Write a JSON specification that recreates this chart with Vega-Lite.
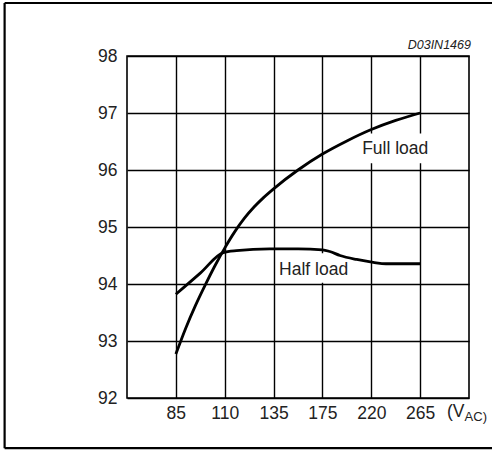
{
  "$schema": "https://vega.github.io/schema/vega-lite/v6.json",
  "width": 342,
  "height": 342,
  "autosize": {"type": "none"},
  "padding": {"left": 127, "top": 56, "right": 23, "bottom": 52},
  "background": "white",
  "config": {
    "view": {"stroke": "black", "strokeWidth": 1.6},
    "font": "Liberation Sans",
    "axis": {
      "grid": true, "gridColor": "black", "gridOpacity": 1, "gridWidth": 1.4,
      "ticks": false, "domain": false, "title": null,
      "labelFont": "Liberation Sans", "labelFontSize": 17.5, "labelColor": "#222"
    }
  },
  "datasets": {
    "curves": [
      {"load": "Full load", "pos": 1.0, "eff": 92.77},
      {"load": "Full load", "pos": 1.2, "eff": 93.22},
      {"load": "Full load", "pos": 1.4, "eff": 93.62},
      {"load": "Full load", "pos": 1.6, "eff": 93.98},
      {"load": "Full load", "pos": 1.8, "eff": 94.32},
      {"load": "Full load", "pos": 2.0, "eff": 94.63},
      {"load": "Full load", "pos": 2.2, "eff": 94.91},
      {"load": "Full load", "pos": 2.4, "eff": 95.15},
      {"load": "Full load", "pos": 2.6, "eff": 95.35},
      {"load": "Full load", "pos": 2.8, "eff": 95.52},
      {"load": "Full load", "pos": 3.0, "eff": 95.67},
      {"load": "Full load", "pos": 3.5, "eff": 96.0},
      {"load": "Full load", "pos": 4.0, "eff": 96.28},
      {"load": "Full load", "pos": 4.5, "eff": 96.51},
      {"load": "Full load", "pos": 5.0, "eff": 96.71},
      {"load": "Full load", "pos": 5.5, "eff": 96.87},
      {"load": "Full load", "pos": 6.0, "eff": 97.0},
      {"load": "Half load", "pos": 1.0, "eff": 93.82},
      {"load": "Half load", "pos": 1.5, "eff": 94.19},
      {"load": "Half load", "pos": 1.97, "eff": 94.55},
      {"load": "Half load", "pos": 2.24, "eff": 94.585},
      {"load": "Half load", "pos": 2.92, "eff": 94.615},
      {"load": "Half load", "pos": 3.5, "eff": 94.615},
      {"load": "Half load", "pos": 4.0, "eff": 94.6},
      {"load": "Half load", "pos": 4.15, "eff": 94.57},
      {"load": "Half load", "pos": 4.36, "eff": 94.5},
      {"load": "Half load", "pos": 4.7, "eff": 94.43},
      {"load": "Half load", "pos": 5.04, "eff": 94.38},
      {"load": "Half load", "pos": 5.3, "eff": 94.355},
      {"load": "Half load", "pos": 6.0, "eff": 94.355}
    ],
    "labels": [
      {"text": "Full load", "pos": 5.49, "eff": 96.37, "x1": 4.8, "x2": 6.2, "y1": 96.12, "y2": 96.64},
      {"text": "Half load", "pos": 3.82, "eff": 94.25, "x1": 3.05, "x2": 4.6, "y1": 94.02, "y2": 94.54}
    ],
    "frame": [
      {"side": "left", "xa": -2.505, "xb": -2.505, "ya": 98.93, "yb": 91.12},
      {"side": "top", "xa": -2.505, "xb": 12, "ya": 98.93, "yb": 98.93},
      {"side": "bottom", "xa": -2.505, "xb": 12, "ya": 91.12, "yb": 91.12}
    ]
  },
  "layer": [
    {
      "data": {"name": "labels"},
      "mark": {"type": "rect", "fill": "white", "stroke": null},
      "encoding": {
        "x": {"field": "x1", "type": "quantitative", "scale": {"domain": [0, 7]},
          "axis": {"values": [1, 2, 3, 4, 5, 6], "labelPadding": 6,
            "labelExpr": "['', '85', '110', '135', '175', '220', '265'][datum.value]"}},
        "x2": {"field": "x2"},
        "y": {"field": "y1", "type": "quantitative", "scale": {"domain": [92, 98]},
          "axis": {"values": [92, 93, 94, 95, 96, 97, 98], "format": "d", "labelPadding": 10}},
        "y2": {"field": "y2"}
      }
    },
    {
      "data": {"name": "curves"},
      "mark": {"type": "line", "color": "black", "strokeWidth": 2.8, "interpolate": "monotone"},
      "encoding": {
        "x": {"field": "pos", "type": "quantitative"},
        "y": {"field": "eff", "type": "quantitative"},
        "detail": {"field": "load"}
      }
    },
    {
      "data": {"name": "labels"},
      "mark": {"type": "text", "fontSize": 17.5, "color": "#222", "align": "center", "baseline": "middle"},
      "encoding": {
        "x": {"field": "pos", "type": "quantitative"},
        "y": {"field": "eff", "type": "quantitative"},
        "text": {"field": "text"}
      }
    },
    {
      "data": {"values": [{"t": "D03IN1469"}]},
      "mark": {"type": "text", "fontSize": 12.5, "fontStyle": "italic", "color": "#222", "align": "right", "baseline": "alphabetic"},
      "encoding": {
        "x": {"datum": 7.04},
        "y": {"datum": 98.12},
        "text": {"field": "t"}
      }
    },
    {
      "data": {"values": [{"t": "(V"}]},
      "mark": {"type": "text", "fontSize": 17.5, "color": "#222", "align": "left", "baseline": "alphabetic", "dy": 19},
      "encoding": {
        "x": {"datum": 6.55},
        "y": {"datum": 92},
        "text": {"field": "t"}
      }
    },
    {
      "data": {"values": [{"t": "AC)"}]},
      "mark": {"type": "text", "fontSize": 13, "color": "#222", "align": "left", "baseline": "alphabetic", "dy": 23},
      "encoding": {
        "x": {"datum": 6.91},
        "y": {"datum": 92},
        "text": {"field": "t"}
      }
    },
    {
      "data": {"name": "frame"},
      "mark": {"type": "rule", "color": "black", "strokeWidth": 2.2, "clip": false},
      "encoding": {
        "x": {"field": "xa", "type": "quantitative"},
        "x2": {"field": "xb"},
        "y": {"field": "ya", "type": "quantitative"},
        "y2": {"field": "yb"}
      }
    }
  ]
}
